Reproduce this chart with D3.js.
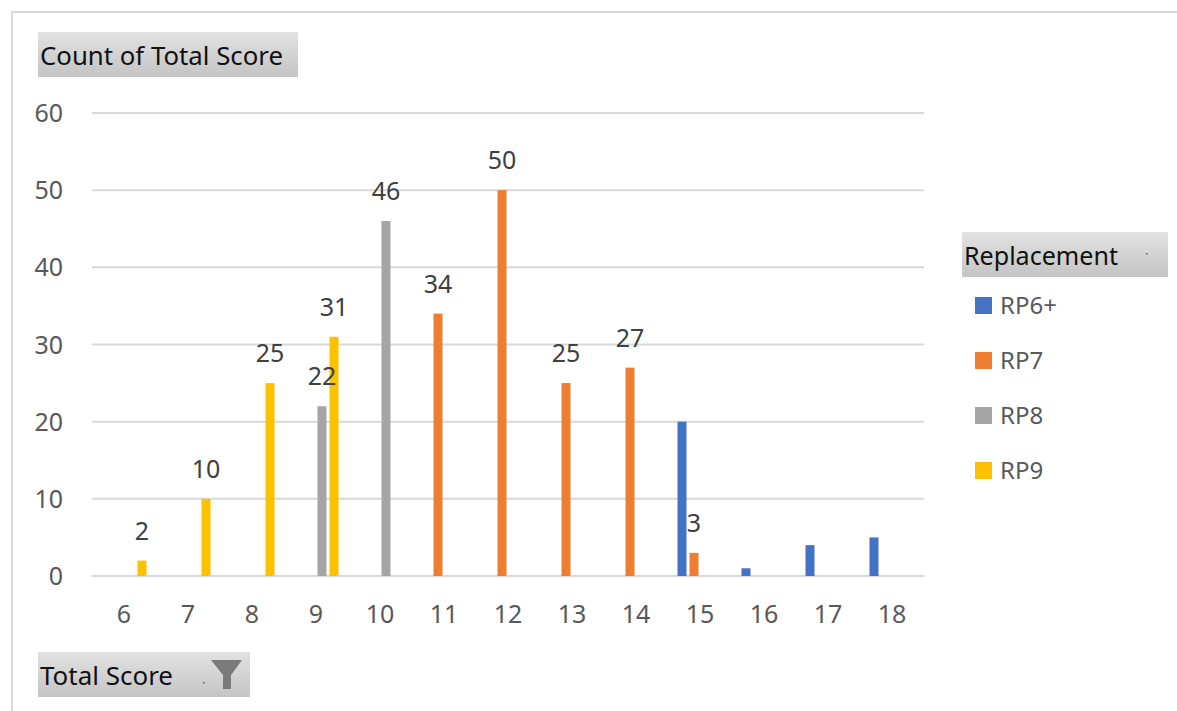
<!DOCTYPE html>
<html lang="en">
<head>
<meta charset="utf-8">
<title>Count of Total Score</title>
<script src="https://cdn.jsdelivr.net/npm/d3@7"></script>
<style>
  body { margin: 0; background: #fff; }
  text { font-family: "Noto Sans", "Open Sans", sans-serif; }
</style>
</head>
<body>
<script>
// categories on the x axis (Total Score)
var categories = [6, 7, 8, 9, 10, 11, 12, 13, 14, 15, 16, 17, 18];
var seriesNames = ["RP6+", "RP7", "RP8", "RP9"];
var seriesColors = ["#4472C4", "#ED7D31", "#A5A5A5", "#FFC000"];
// counts per category, null = no bar
var rp6 = [null, null, null, null, null, null, null, null, null, 20, 1, 4, 5];
var rp7 = [null, null, null, null, null, 34, 50, 25, 27, 3, null, null, null];
var rp8 = [null, null, null, 22, 46, null, null, null, null, null, null, null, null];
var rp9 = [2, 10, 25, 31, null, null, null, null, null, null, null, null, null];
var yTicks = [0, 10, 20, 30, 40, 50, 60];
// RP6+ has no data labels in the original
var showLabels = [false, true, true, true];

var width = 1177, height = 711;
var allSeries = [rp6, rp7, rp8, rp9];

var svg = d3.select("body").append("svg")
    .attr("width", width)
    .attr("height", height);

// outer chart frame
svg.append("path")
    .attr("d", "M12," + (height + 5) + "V12H" + (width + 5))
    .attr("fill", "none")
    .attr("stroke", "#d9d9d9")
    .attr("stroke-width", 2);

var x0 = d3.scaleBand().domain(categories).range([92, 924]);
var x1 = d3.scaleBand().domain(seriesNames).range([-24, 24])
    .paddingInner(0.25).paddingOuter(0.125);
var y = d3.scaleLinear().domain([0, 60]).range([576, 113]);

// gridlines
svg.append("g").selectAll("line")
    .data(yTicks)
    .enter().append("line")
    .attr("x1", 92).attr("x2", 924)
    .attr("y1", function(d){ return y(d); })
    .attr("y2", function(d){ return y(d); })
    .attr("stroke", "#d9d9d9")
    .attr("stroke-width", 2);

// y tick labels
svg.append("g").selectAll("text")
    .data(yTicks)
    .enter().append("text")
    .attr("x", 63)
    .attr("y", function(d){ return y(d) + 9; })
    .attr("text-anchor", "end")
    .attr("fill", "#595959")
    .style("font-size", "25px")
    .text(function(d){ return d; });

// x tick labels
svg.append("g").selectAll("text")
    .data(categories)
    .enter().append("text")
    .attr("x", function(d){ return x0(d) + x0.bandwidth() / 2; })
    .attr("y", 623)
    .attr("text-anchor", "middle")
    .attr("fill", "#595959")
    .style("font-size", "25px")
    .text(function(d){ return d; });

// bars first, labels on top afterwards
var barLayer = svg.append("g");
var labelLayer = svg.append("g");
allSeries.forEach(function(vals, si){
    var name = seriesNames[si];
    var pts = [];
    vals.forEach(function(v, ci){
        if (v != null) pts.push({cat: categories[ci], v: v});
    });
    barLayer.append("g").selectAll("rect")
        .data(pts)
        .enter().append("rect")
        .attr("x", function(d){ return x0(d.cat) + x0.bandwidth() / 2 + x1(name); })
        .attr("width", x1.bandwidth())
        .attr("y", function(d){ return y(d.v); })
        .attr("height", function(d){ return y(0) - y(d.v); })
        .attr("fill", seriesColors[si]);
    if (showLabels[si]) {
        labelLayer.append("g").selectAll("text")
            .data(pts)
            .enter().append("text")
            .attr("x", function(d){ return x0(d.cat) + x0.bandwidth() / 2 + x1(name) + x1.bandwidth() / 2; })
            .attr("y", function(d){ return y(d.v) - 21; })
            .attr("text-anchor", "middle")
            .attr("fill", "#404040")
            .style("font-size", "25px")
            .text(function(d){ return d.v; });
    }
});

// gray pivot field buttons
var grad = svg.append("defs").append("linearGradient")
    .attr("id", "btn").attr("x1", 0).attr("y1", 0).attr("x2", 0).attr("y2", 1);
grad.append("stop").attr("offset", "0%").attr("stop-color", "#e2e2e2");
grad.append("stop").attr("offset", "100%").attr("stop-color", "#c4c4c4");

function addButton(x, y, w, h, label, textW){
    var b = svg.append("g");
    b.append("rect")
        .attr("x", x).attr("y", y)
        .attr("width", w).attr("height", h)
        .attr("fill", "url(#btn)");
    b.append("text")
        .attr("x", x + 2)
        .attr("y", y + h - 12)
        .attr("fill", "#111")
        .attr("textLength", textW)
        .attr("lengthAdjust", "spacingAndGlyphs")
        .style("font-size", "25px")
        .text(label);
    return b;
}

addButton(38, 32, 260, 45, "Count of Total Score", 243);
var ts = addButton(38, 652, 212, 45, "Total Score", 133);
ts.append("rect").attr("x", 203).attr("y", 682).attr("width", 1.5).attr("height", 1.5).attr("fill", "#555");
ts.append("path")
    .attr("d", "M211,660H242L231,675V689H223V675Z")
    .attr("fill", "#7a7a7a");
var rep = addButton(962, 232, 206, 45, "Replacement", 154);
rep.append("rect").attr("x", 1146).attr("y", 253).attr("width", 1.5).attr("height", 1.5).attr("fill", "#555");

// legend
var legend = svg.append("g").selectAll("g")
    .data(seriesNames)
    .enter().append("g")
    .attr("transform", function(d, i){ return "translate(975," + (297 + i * 55) + ")"; });
legend.append("rect")
    .attr("width", 17).attr("height", 17)
    .attr("fill", function(d, i){ return seriesColors[i]; });
legend.append("text")
    .attr("x", 25).attr("y", 17)
    .attr("fill", "#595959")
    .style("font-size", "24px")
    .text(function(d){ return d; });
</script>
</body>
</html>
